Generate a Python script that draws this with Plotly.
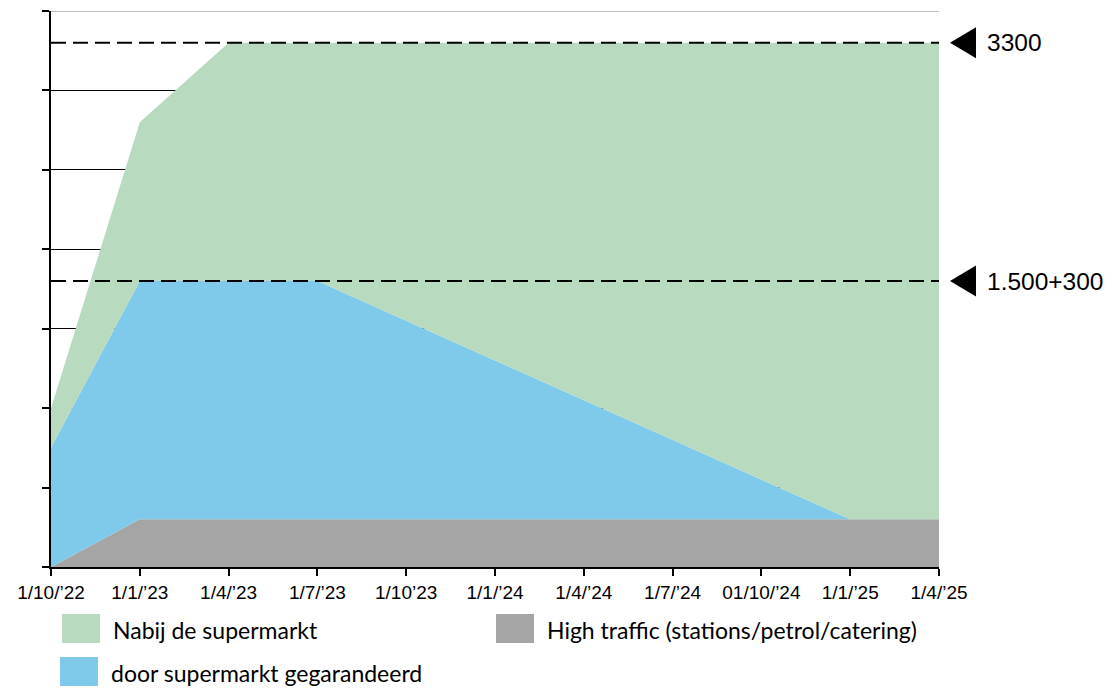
import plotly.graph_objects as go

categories = ["1/10/\u201922", "1/1/\u201923", "1/4/\u201923", "1/7/\u201923", "1/10\u201923", "1/1/\u201924",
              "1/4/\u201924", "1/7/\u201924", "01/10/\u201924", "1/1/\u201925", "1/4/\u201925"]
high_traffic = [0, 300, 300, 300, 300, 300, 300, 300, 300, 300, 300]
door_supermarkt = [750, 1500, 1500, 1500, 1250, 1000, 750, 500, 250, 0, 0]
nabij_supermarkt = [250, 1000, 1500, 1500, 1750, 2000, 2250, 2500, 2750, 3000, 3000]
thresholds = [3300, 1800]
threshold_labels = ["3300", "1.500+300"]

series_names = ["Nabij de supermarkt", "door supermarkt gegarandeerd", "High traffic (stations/petrol/catering)"]
colors = {"green": "#B8DBBF", "blue": "#7FC9EB", "gray": "#A5A5A5"}

W, H = 1117, 688
L, R, T, B = 51, 939, 11, 567
Y_MAX = 3500

xs = list(range(len(categories)))

fig = go.Figure()
fig.add_trace(go.Scatter(x=xs, y=high_traffic, stackgroup="s", mode="lines",
                         line=dict(width=0, color=colors["gray"]), fillcolor=colors["gray"],
                         name=series_names[2], showlegend=False, hoverinfo="skip"))
fig.add_trace(go.Scatter(x=xs, y=door_supermarkt, stackgroup="s", mode="lines",
                         line=dict(width=0, color=colors["blue"]), fillcolor=colors["blue"],
                         name=series_names[1], showlegend=False, hoverinfo="skip"))
fig.add_trace(go.Scatter(x=xs, y=nabij_supermarkt, stackgroup="s", mode="lines",
                         line=dict(width=0, color=colors["green"]), fillcolor=colors["green"],
                         name=series_names[0], showlegend=False, hoverinfo="skip"))


def px_x(p):
    return (p - L) / (R - L)


def px_y(p):
    return (B - p) / (B - T)


shapes = []
# top border line (gridline at the top of the range)
shapes.append(dict(type="line", xref="paper", yref="y", x0=0, x1=1, y0=Y_MAX, y1=Y_MAX,
                   line=dict(color="#808080", width=1), layer="below"))

for t in thresholds:
    shapes.append(dict(type="line", xref="x", yref="y", x0=0, x1=len(categories) - 1, y0=t, y1=t,
                       line=dict(color="black", width=2, dash="15px,7px"), layer="above"))
    # left-pointing triangle marker outside the plot
    shapes.append(dict(type="path", xref="paper", yref="y", xsizemode="pixel", ysizemode="pixel",
                       xanchor=px_x(950), yanchor=t, path="M0,0 L26,15.5 L26,-15.5 Z",
                       fillcolor="black", line=dict(width=0)))

annotations = []
for t, lab in zip(thresholds, threshold_labels):
    annotations.append(dict(xref="paper", yref="y", x=px_x(985), y=t, text=lab,
                            showarrow=False, xanchor="left", yanchor="middle",
                            font=dict(family="Liberation Sans, Arial", size=24.5, color="black")))

legend_items = [
    (series_names[0], colors["green"], 62, 628.5),
    (series_names[1], colors["blue"], 60, 671.5),
    (series_names[2], colors["gray"], 496, 628.5),
]
for name, col, lx, cy in legend_items:
    shapes.append(dict(type="rect", xref="paper", yref="paper",
                       x0=px_x(lx), x1=px_x(lx + 38), y0=px_y(cy - 14.5), y1=px_y(cy + 14.5),
                       fillcolor=col, line=dict(width=0)))
    annotations.append(dict(xref="paper", yref="paper", x=px_x(lx + 49), y=px_y(cy + 1), text=name,
                            showarrow=False, xanchor="left", yanchor="middle",
                            font=dict(family="Lato", size=23, color="black")))

fig.update_layout(
    width=W, height=H,
    margin=dict(l=L, r=W - R, t=T, b=H - B, pad=0),
    plot_bgcolor="white", paper_bgcolor="white",
    showlegend=False,
    shapes=shapes, annotations=annotations,
    xaxis=dict(range=[0, len(categories) - 1], tickmode="array", tickvals=xs, ticktext=categories,
               showgrid=False, zeroline=False, showline=True, linecolor="black", linewidth=1.5,
               ticks="outside", ticklen=7, tickwidth=1.5, tickcolor="black",
               tickfont=dict(family="Liberation Sans, Arial", size=19, color="black")),
    yaxis=dict(range=[0, Y_MAX], dtick=500, tick0=0, showticklabels=False,
               showgrid=True, gridcolor="black", gridwidth=1, zeroline=False,
               showline=True, linecolor="black", linewidth=1.5,
               ticks="outside", ticklen=7, tickwidth=1.5, tickcolor="black"),
)

fig.write_html("out.html", config={"displayModeBar": False},
               post_script="document.body.style.margin='0';document.body.style.overflow='hidden';")
